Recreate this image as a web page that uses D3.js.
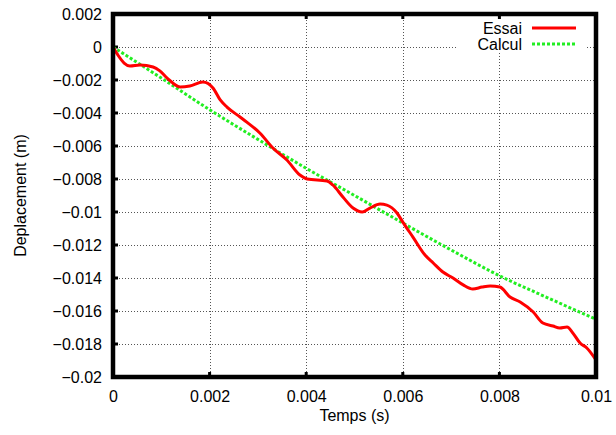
<!DOCTYPE html>
<html>
<head>
<meta charset="utf-8">
<script src="https://cdn.jsdelivr.net/npm/d3@7"></script>
<style>
  html, body { margin: 0; padding: 0; background: #fff; }
  text { font-family: "Liberation Sans", Arial, Helvetica, sans-serif; }
</style>
</head>
<body>
<svg id="chart" width="616" height="435"></svg>
<script>
// ---- Data ----
const timeEssai = [0, 0.0001, 0.00023, 0.00035, 0.00056, 0.00083, 0.00097, 0.00112, 0.00139, 0.00159, 0.00186,
  0.00207, 0.00222, 0.00236, 0.00263, 0.00277, 0.00304, 0.00331, 0.0036, 0.00387, 0.00402, 0.00443, 0.00455,
  0.00476, 0.00497, 0.00516, 0.00532, 0.00553, 0.00567, 0.00588, 0.006, 0.00621, 0.00646, 0.00663, 0.00683,
  0.00704, 0.00725, 0.00745, 0.00764, 0.00781, 0.00801, 0.00822, 0.00843, 0.0087, 0.0089, 0.00911, 0.00925,
  0.0094, 0.00952, 0.00967, 0.00981, 0.01];
const dispEssai = [0, -0.00048, -0.00097, -0.00115, -0.00109, -0.00121, -0.00145, -0.00188, -0.00242, -0.00236, -0.00212,
  -0.00248, -0.00321, -0.00364, -0.00424, -0.00455, -0.00521, -0.00612, -0.00685, -0.00776, -0.008, -0.00812, -0.00836,
  -0.00909, -0.00976, -0.01, -0.00976, -0.00952, -0.00958, -0.01006, -0.01061, -0.01152, -0.01261, -0.01309, -0.01364,
  -0.014, -0.01442, -0.01467, -0.01455, -0.01448, -0.01455, -0.01515, -0.01545, -0.01606, -0.01673, -0.01691, -0.01703,
  -0.01697, -0.01733, -0.01794, -0.01824, -0.01897];

const timeCalcul = [0, 0.001, 0.002, 0.003, 0.004, 0.005, 0.006, 0.007, 0.008, 0.009, 0.01];
const dispCalcul = [0, -0.00188, -0.0038, -0.0056, -0.00735, -0.0090, -0.01067, -0.0123, -0.01386, -0.0152, -0.0165];

const xTicks = [0, 0.002, 0.004, 0.006, 0.008, 0.01];
const xTickLabels = ["0", "0.002", "0.004", "0.006", "0.008", "0.01"];
const yTicks = [0.002, 0, -0.002, -0.004, -0.006, -0.008, -0.01, -0.012, -0.014, -0.016, -0.018, -0.02];
const yTickLabels = ["0.002", "0", "\u22120.002", "\u22120.004", "\u22120.006", "\u22120.008", "\u22120.01",
  "\u22120.012", "\u22120.014", "\u22120.016", "\u22120.018", "\u22120.02"];

const seriesNames = ["Essai", "Calcul"];
const xTitle = "Temps (s)";
const yTitle = "Deplacement (m)";

// ---- Layout ----
const svg = d3.select("#chart");
const L = 113, R = 596, T = 14, B = 377;
const x = d3.scaleLinear().domain([0, 0.01]).range([L, R]);
const y = d3.scaleLinear().domain([-0.02, 0.002]).range([B, T]);

svg.append("rect").attr("width", 616).attr("height", 435).attr("fill", "#fff");

// grid
const grid = svg.append("g").attr("stroke", "#555").attr("stroke-width", 1).attr("stroke-dasharray", "1,2");
grid.selectAll("line.gx").data(xTicks.filter(d => d > 0 && d < 0.01)).join("line")
  .attr("x1", d => Math.round(x(d)) + 0.5).attr("x2", d => Math.round(x(d)) + 0.5)
  .attr("y1", T).attr("y2", B);
grid.selectAll("line.gy").data(yTicks.filter(d => d < 0.002 && d > -0.02)).join("line")
  .attr("y1", d => Math.round(y(d)) + 0.5).attr("y2", d => Math.round(y(d)) + 0.5)
  .attr("x1", L).attr("x2", R);

// legend background (gnuplot key box, no border)
svg.append("rect").attr("x", 458).attr("y", 17).attr("width", 129).attr("height", 36).attr("fill", "#fff");

// axes via d3
const xAxis = d3.axisBottom(x).tickValues(xTicks).tickFormat((d, i) => xTickLabels[i]).tickSize(0).tickPadding(14);
const gx = svg.append("g").attr("transform", `translate(0,${B})`).call(xAxis);
gx.select(".domain").remove();
gx.selectAll("text").attr("font-size", 16).attr("fill", "#000")
  .attr("font-family", "'Liberation Sans', Arial, sans-serif");

const yAxis = d3.axisLeft(y).tickValues(yTicks).tickFormat((d, i) => yTickLabels[i]).tickSize(0).tickPadding(11);
const gy = svg.append("g").attr("transform", `translate(${L},0)`).call(yAxis);
gy.select(".domain").remove();
gy.selectAll("text").attr("font-size", 16).attr("fill", "#000")
  .attr("font-family", "'Liberation Sans', Arial, sans-serif");

// tick marks (inward)
const tk = svg.append("g").attr("stroke", "#000").attr("stroke-width", 3);
tk.selectAll("line.bt").data(xTicks).join("line")
  .attr("x1", d => x(d)).attr("x2", d => x(d)).attr("y1", B).attr("y2", B - 5);
tk.selectAll("line.tt").data(xTicks).join("line")
  .attr("x1", d => x(d)).attr("x2", d => x(d)).attr("y1", T).attr("y2", T + 5);
tk.selectAll("line.lt").data(yTicks).join("line")
  .attr("y1", d => y(d)).attr("y2", d => y(d)).attr("x1", L).attr("x2", L + 5);

// lines
const clip = svg.append("clipPath").attr("id", "clip").append("rect")
  .attr("x", L).attr("y", T).attr("width", R - L).attr("height", B - T);

const lineGen = d3.line().x(d => x(d[0])).y(d => y(d[1])).curve(d3.curveMonotoneX);
const essaiData = timeEssai.map((t, i) => [t, dispEssai[i]]);
const calculData = timeCalcul.map((t, i) => [t, dispCalcul[i]]);

svg.append("path").datum(calculData).attr("d", lineGen).attr("clip-path", "url(#clip)")
  .attr("fill", "none").attr("stroke", "#22ee22").attr("stroke-width", 3).attr("stroke-dasharray", "3,2");
svg.append("path").datum(essaiData).attr("d", lineGen).attr("clip-path", "url(#clip)")
  .attr("fill", "none").attr("stroke", "#ff0000").attr("stroke-width", 3).attr("stroke-linejoin", "round");

// frame
svg.append("rect").attr("x", L).attr("y", T).attr("width", R - L).attr("height", B - T)
  .attr("fill", "none").attr("stroke", "#000").attr("stroke-width", 4.5);

// legend
const legend = svg.append("g");
const legY = [28, 44];
const legStyles = [
  { stroke: "#ff0000", dash: null },
  { stroke: "#22ee22", dash: "3,2" }
];
seriesNames.forEach((name, i) => {
  legend.append("text").attr("x", 522).attr("y", legY[i]).attr("dy", "0.35em")
    .attr("text-anchor", "end").attr("font-size", 16).text(name);
  legend.append("line").attr("x1", 532).attr("x2", 576).attr("y1", legY[i]).attr("y2", legY[i])
    .attr("stroke", legStyles[i].stroke).attr("stroke-width", 3)
    .attr("stroke-dasharray", legStyles[i].dash);
});

// axis titles
svg.append("text").attr("x", (L + R) / 2).attr("y", 421).attr("text-anchor", "middle")
  .attr("font-size", 16).text(xTitle);
svg.append("text").attr("transform", `translate(26,${(T + B) / 2}) rotate(-90)`)
  .attr("text-anchor", "middle").attr("font-size", 16).text(yTitle);
</script>
</body>
</html>
